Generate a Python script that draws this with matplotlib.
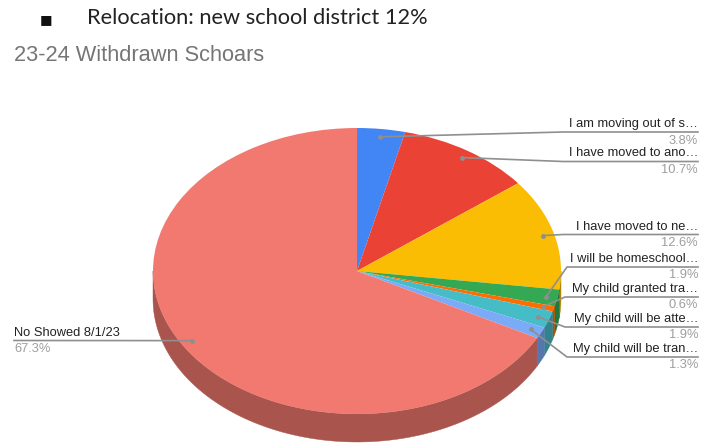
import numpy as np
import matplotlib
matplotlib.use("Agg")
import matplotlib.pyplot as plt
from matplotlib.colors import to_rgb

labels = ["I am moving out of s…", "I have moved to ano…", "I have moved to ne…",
          "I will be homeschool…", "My child granted tra…", "My child will be atte…",
          "My child will be tran…", "No Showed 8/1/23"]
values = [3.8, 10.7, 12.6, 1.9, 0.6, 1.9, 1.3, 67.3]
colors = ["#4285f4", "#ea4335", "#fbbc04", "#34a853", "#ff6d01", "#46bdc6", "#7baaf7", "#f2796f"]

W, H = 703, 443
CX, CY, RX, RY, DEPTH = 357, 271, 204, 143, 28

fig = plt.figure(figsize=(W / 100, H / 100), dpi=100, facecolor="white")

# Tilted pie: an ordinary pie stretched by the axes limits
ax = fig.add_axes([0, 0, 1, 1])
ax.pie(values, colors=colors, startangle=90, counterclock=False, radius=1,
       wedgeprops={"linewidth": 0, "zorder": 2})
ax.set_aspect("auto")
ax.set_xlim(-CX / RX, (W - CX) / RX)
ax.set_ylim((CY - H) / RY, CY / RY)
ax.axis("off")

# Front wall of the disc, one darker band for each slice
d = DEPTH / RY
edges = np.concatenate([[0], np.cumsum(values)]) / sum(values) * 2 * np.pi
for a0, a1, c in zip(edges[:-1], edges[1:], colors):
    lo, hi = max(a0, np.pi / 2), min(a1, 3 * np.pi / 2)
    if hi <= lo:
        continue
    t = np.linspace(lo, hi, 120)
    xs = np.concatenate([np.sin(t), np.sin(t[::-1])])
    ys = np.concatenate([np.cos(t), np.cos(t[::-1]) - d])
    ax.fill(xs, ys, color=tuple(v * 0.7 for v in to_rgb(c)), lw=0.3, zorder=1)

# Overlay in pixel units for the leader lines and text
ov = fig.add_axes([0, 0, 1, 1], facecolor="none")
ov.set_xlim(0, W)
ov.set_ylim(H, 0)
ov.axis("off")

line_y = [132, 161.5, 234.5, 267, 297, 327, 357, 340.5]
elbow_x = [563, 563, 563, 567, 565, 565, 567, 191]
mids = (edges[:-1] + edges[1:]) / 2
LINE = "#8f8f8f"
for i, (lab, val) in enumerate(zip(labels, values)):
    px = CX + 0.945 * RX * np.sin(mids[i])
    py = CY - 0.945 * RY * np.cos(mids[i])
    if i == len(labels) - 1:
        ov.plot([14, px], [line_y[i], py], color=LINE, lw=1.2, zorder=3)
        tx, ha = 14, "left"
    else:
        ov.plot([px, elbow_x[i], 698], [py, line_y[i], line_y[i]], color=LINE, lw=1.2, zorder=3)
        tx, ha = 698, "right"
    ov.plot(px, py, "o", ms=3.5, color=LINE, mew=0, zorder=4)
    ov.text(tx, line_y[i] - 2, lab, ha=ha, va="bottom", fontsize=9.3,
            family="Liberation Sans", color="#222222")
    ov.text(tx, line_y[i] + 2.5, f"{val}%", ha=ha, va="top", fontsize=9.3,
            family="Liberation Sans", color="#9e9e9e")

ov.text(14, 55, "23-24 Withdrawn Schoars", ha="left", va="center", fontsize=15.7,
        family="Liberation Sans", color="#757575")
ov.text(46, 20, "■", ha="center", va="center", fontsize=9.5, family="DejaVu Sans", color="#111111")
ov.text(87, 18, "Relocation: new school district 12%", ha="left", va="center", fontsize=15.65,
        family="Lato", color="#222222")

fig.savefig("out.png", dpi=100, facecolor="white")
